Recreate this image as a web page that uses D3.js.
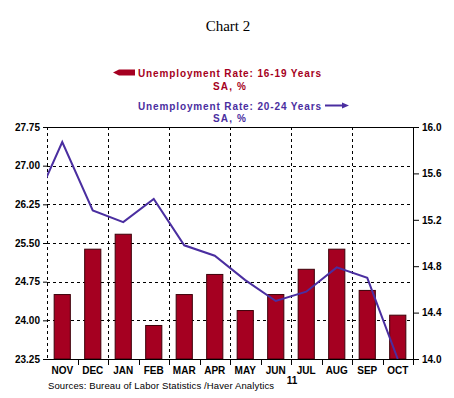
<!DOCTYPE html>
<html>
<head>
<meta charset="utf-8">
<script src="https://cdn.jsdelivr.net/npm/d3@7"></script>
<style>
  body { margin: 0; background: #fff; }
  svg { display: block; }
</style>
</head>
<body>
<svg id="chart"></svg>
<script>
// chart data
const months = ['NOV', 'DEC', 'JAN', 'FEB', 'MAR', 'APR', 'MAY', 'JUN', 'JUL', 'AUG', 'SEP', 'OCT'];
const teenRate = [24.5, 25.38, 25.67, 23.9, 24.5, 24.89, 24.19, 24.5, 24.99, 25.38, 24.58, 24.1];   // 16-19, left axis
const youngRate = [15.87, 15.28, 15.18, 15.38, 14.98, 14.89, 14.68, 14.5, 14.58, 14.79, 14.7, 14.0]; // 20-24, right axis
const priorYoungRate = 15.28; // Oct 2010, only its segment shows at the left edge
const leftTicks = [23.25, 24.00, 24.75, 25.50, 26.25, 27.00, 27.75];
const rightTicks = [14.0, 14.4, 14.8, 15.2, 15.6, 16.0];

const W = 454, H = 398;
const margin = { top: 127, right: 41, bottom: 39, left: 47 };
const width = W - margin.left - margin.right;
const height = H - margin.top - margin.bottom;

const red = '#a50021', blue = '#4a2ea0';
const font = 'Liberation Sans, Arial, sans-serif';

const svg = d3.select('#chart').attr('width', W).attr('height', H);

svg.append('text')
  .attr('x', 228).attr('y', 31)
  .attr('text-anchor', 'middle')
  .style('font-family', '"Liberation Serif", "Times New Roman", serif')
  .style('font-size', '15px')
  .text('Chart 2');

// legend
function legendText(txt, x0, y0, len, color) {
  svg.append('text')
    .attr('x', x0).attr('y', y0)
    .attr('textLength', len).attr('lengthAdjust', 'spacing')
    .style('font-family', font).style('font-weight', 'bold').style('font-size', '10px')
    .attr('fill', color)
    .text(txt);
}
svg.append('path')
  .attr('d', 'M113,72.5 L119,69.5 L135,69.5 L135,75.5 L119,75.5 Z')
  .attr('fill', red);
legendText('Unemployment Rate: 16-19 Years', 138, 76.5, 183, red);
legendText('SA, %', 213, 89.5, 33, red);
legendText('Unemployment Rate: 20-24 Years', 138, 109.5, 183, blue);
legendText('SA, %', 213, 121.5, 33, blue);
svg.append('line')
  .attr('x1', 325).attr('x2', 344).attr('y1', 105.5).attr('y2', 105.5)
  .attr('stroke', blue).attr('stroke-width', 2);
svg.append('path')
  .attr('d', 'M342,102.5 L349,105.5 L342,108.5 Z')
  .attr('fill', blue);

const g = svg.append('g').attr('transform', `translate(${margin.left},${margin.top})`);

const x = d3.scaleBand().domain(months).range([0, width]).paddingInner(0.47).paddingOuter(0.235);
const yL = d3.scaleLinear().domain([23.25, 27.75]).range([height, 0]);
const yR = d3.scaleLinear().domain([14.0, 16.0]).range([height, 0]);
const step = x.step();

g.append('defs').append('clipPath').attr('id', 'clip')
  .append('rect').attr('width', width).attr('height', height);

// grid: dashes as 1px rects so they stay crisp
const grid = g.append('g').attr('fill', '#000');
leftTicks.slice(1, -1).forEach(v => {
  const yy = Math.round(yL(v));
  grid.selectAll(null)
    .data(d3.range(0, width, 6))
    .enter().append('rect')
    .attr('x', d => d).attr('y', yy)
    .attr('width', d => Math.min(3, width - d)).attr('height', 1);
});
d3.range(0, months.length, 2).forEach(i => {
  const xx = Math.round(step * i);
  grid.selectAll(null)
    .data(d3.range(0, height, 6))
    .enter().append('rect')
    .attr('x', xx).attr('y', d => d)
    .attr('width', 1).attr('height', d => Math.min(3, height - d));
});

// bars
g.selectAll('.bar')
  .data(teenRate)
  .enter().append('rect')
  .attr('x', (d, i) => x(months[i]))
  .attr('width', x.bandwidth())
  .attr('y', d => yL(d))
  .attr('height', d => height - yL(d))
  .attr('fill', red)
  .attr('stroke', '#3d0009').attr('stroke-width', 1);

// line
const pts = [[-0.5, priorYoungRate]].concat(youngRate.map((v, i) => [i + 0.5, v]));
g.append('path')
  .datum(pts)
  .attr('clip-path', 'url(#clip)')
  .attr('fill', 'none')
  .attr('stroke', blue).attr('stroke-width', 2)
  .attr('d', d3.line().x(d => d[0] * step).y(d => yR(d[1])));

// frame top, bottom, right
const frame = g.append('g').attr('fill', '#000');
frame.append('rect').attr('x', 0).attr('y', 0).attr('width', width + 1).attr('height', 1);
frame.append('rect').attr('x', 0).attr('y', height).attr('width', width + 1).attr('height', 1);
frame.append('rect').attr('x', width).attr('y', 0).attr('width', 1).attr('height', height + 1);

// axes
const tickFont = (sel) => sel.selectAll('text')
  .style('font-family', font).style('font-weight', 'bold').style('font-size', '10px').attr('fill', '#000');

const axL = g.append('g')
  .call(d3.axisLeft(yL).tickValues(leftTicks).tickFormat(d3.format('.2f')).tickSize(4).tickPadding(3));
axL.select('.domain').remove();
tickFont(axL);

const axR = g.append('g').attr('transform', `translate(${width},0)`)
  .call(d3.axisRight(yR).tickValues(rightTicks).tickFormat(d3.format('.1f')).tickSize(6).tickPadding(3));
axR.select('.domain').remove();
tickFont(axR);

const axB = g.append('g').attr('transform', `translate(0,${height})`)
  .call(d3.axisBottom(x).tickSize(0).tickPadding(8));
axB.select('.domain').remove();
tickFont(axB);
axB.selectAll('.sep')
  .data(d3.range(1, months.length + 1))
  .enter().append('line')
  .attr('x1', d => Math.round(step * d) + 0.5).attr('x2', d => Math.round(step * d) + 0.5)
  .attr('y1', 0).attr('y2', 6).attr('stroke', '#000');

g.append('text')
  .attr('x', step * 8 + 1).attr('y', height + 25)
  .attr('text-anchor', 'middle')
  .style('font-family', font).style('font-weight', 'bold').style('font-size', '10px')
  .text('11');

svg.append('text')
  .attr('x', 48).attr('y', 389)
  .attr('textLength', 226).attr('lengthAdjust', 'spacing')
  .style('font-family', font).style('font-size', '9.5px')
  .text('Sources:  Bureau of Labor Statistics /Haver Analytics');
</script>
</body>
</html>
